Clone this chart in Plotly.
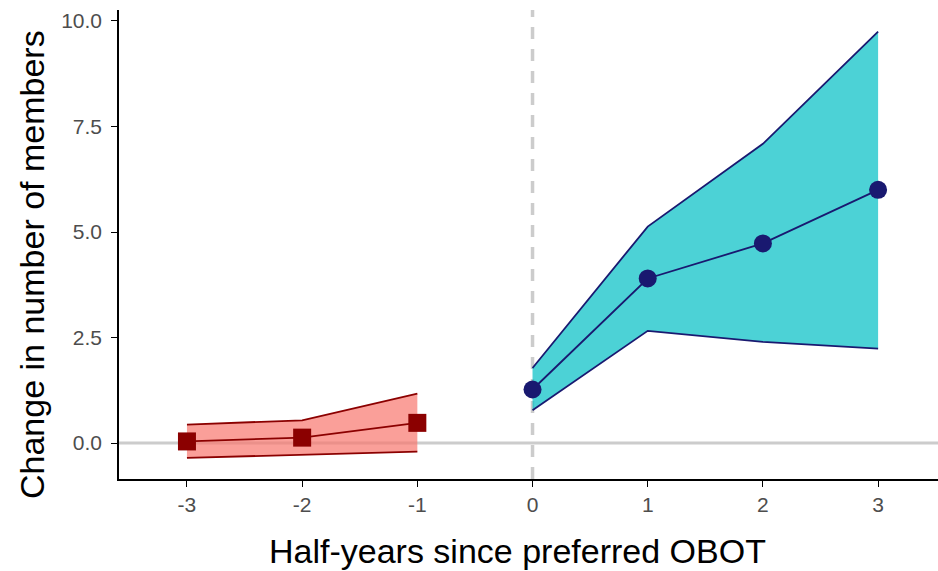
import plotly.graph_objects as go

# Event-study estimates with confidence bands
pre_x = [-3, -2, -1]
pre_est = [0.04, 0.13, 0.48]
pre_lo = [-0.35, -0.28, -0.20]
pre_hi = [0.44, 0.54, 1.17]

post_x = [0, 1, 2, 3]
post_est = [1.27, 3.90, 4.73, 6.00]
post_lo = [0.78, 2.66, 2.40, 2.24]
post_hi = [1.78, 5.13, 7.09, 9.75]

x_ticks = [-3, -2, -1, 0, 1, 2, 3]
x_tick_text = ["-3", "-2", "-1", "0", "1", "2", "3"]
y_ticks = [0.0, 2.5, 5.0, 7.5, 10.0]
y_tick_text = ["0.0", "2.5", "5.0", "7.5", "10.0"]

x_title = "Half-years since preferred OBOT"
y_title = "Change in number of members"

RED_FILL = "rgba(248,118,109,0.7)"
RED_LINE = "#8B0000"
BLUE_FILL = "rgba(0,191,196,0.7)"
BLUE_LINE = "#191970"

fig = go.Figure()


def add_band(x, lo, hi, est, fill, line, symbol):
    fig.add_trace(go.Scatter(x=x, y=lo, mode="lines",
                             line=dict(color=line, width=1.8),
                             showlegend=False, hoverinfo="skip"))
    fig.add_trace(go.Scatter(x=x, y=hi, mode="lines", fill="tonexty",
                             fillcolor=fill, line=dict(color=line, width=1.8),
                             showlegend=False, hoverinfo="skip"))
    fig.add_trace(go.Scatter(x=x, y=est, mode="lines+markers",
                             line=dict(color=line, width=1.8),
                             marker=dict(symbol=symbol, size=18, color=line),
                             showlegend=False))


add_band(pre_x, pre_lo, pre_hi, pre_est, RED_FILL, RED_LINE, "square")
add_band(post_x, post_lo, post_hi, post_est, BLUE_FILL, BLUE_LINE, "circle")

# Reference lines: zero change and the treatment onset
fig.add_shape(type="line", xref="paper", yref="y", x0=0, x1=1, y0=0, y1=0,
              line=dict(color="#cccccc", width=3), layer="below")
fig.add_shape(type="line", xref="x", yref="paper", x0=0, x1=0, y0=0, y1=1,
              line=dict(color="#cccccc", width=3.5, dash="12px,10px"), layer="below")

tick_font = dict(family="Liberation Sans, Arial, sans-serif", size=21, color="#4d4d4d")
title_font = dict(family="Liberation Sans, Arial, sans-serif", size=34, color="black")

# Axis titles placed in pixel terms relative to the canvas
W, H = 938, 571
fig.add_annotation(text=x_title, xref="paper", yref="paper",
                   x=(517 - 119) / (W - 119), y=-(551 - 479) / (479 - 10),
                   xanchor="center", yanchor="middle", showarrow=False,
                   font=title_font)
fig.add_annotation(text=y_title, xref="paper", yref="paper", textangle=-90,
                   x=-(119 - 32) / (W - 119), y=(479 - 265) / (479 - 10),
                   xanchor="center", yanchor="middle", showarrow=False,
                   font=title_font)

fig.update_layout(
    width=W, height=H,
    margin=dict(l=119, r=0, t=10, b=92, autoexpand=False),
    plot_bgcolor="white", paper_bgcolor="white",
    xaxis=dict(range=[-3.59, 3.52], tickvals=x_ticks, ticktext=x_tick_text,
               ticks="outside", ticklen=6, tickwidth=1.3, tickcolor="black",
               showline=True, linecolor="black", linewidth=1.6,
               showgrid=False, zeroline=False, tickfont=tick_font,
               automargin=False),
    yaxis=dict(range=[-0.85, 10.26], tickvals=y_ticks, ticktext=y_tick_text,
               ticks="outside", ticklen=6, tickwidth=1.3, tickcolor="black",
               ticklabelstandoff=5,
               showline=True, linecolor="black", linewidth=1.6,
               showgrid=False, zeroline=False, tickfont=tick_font,
               automargin=False),
)

fig.write_html("out.html")
